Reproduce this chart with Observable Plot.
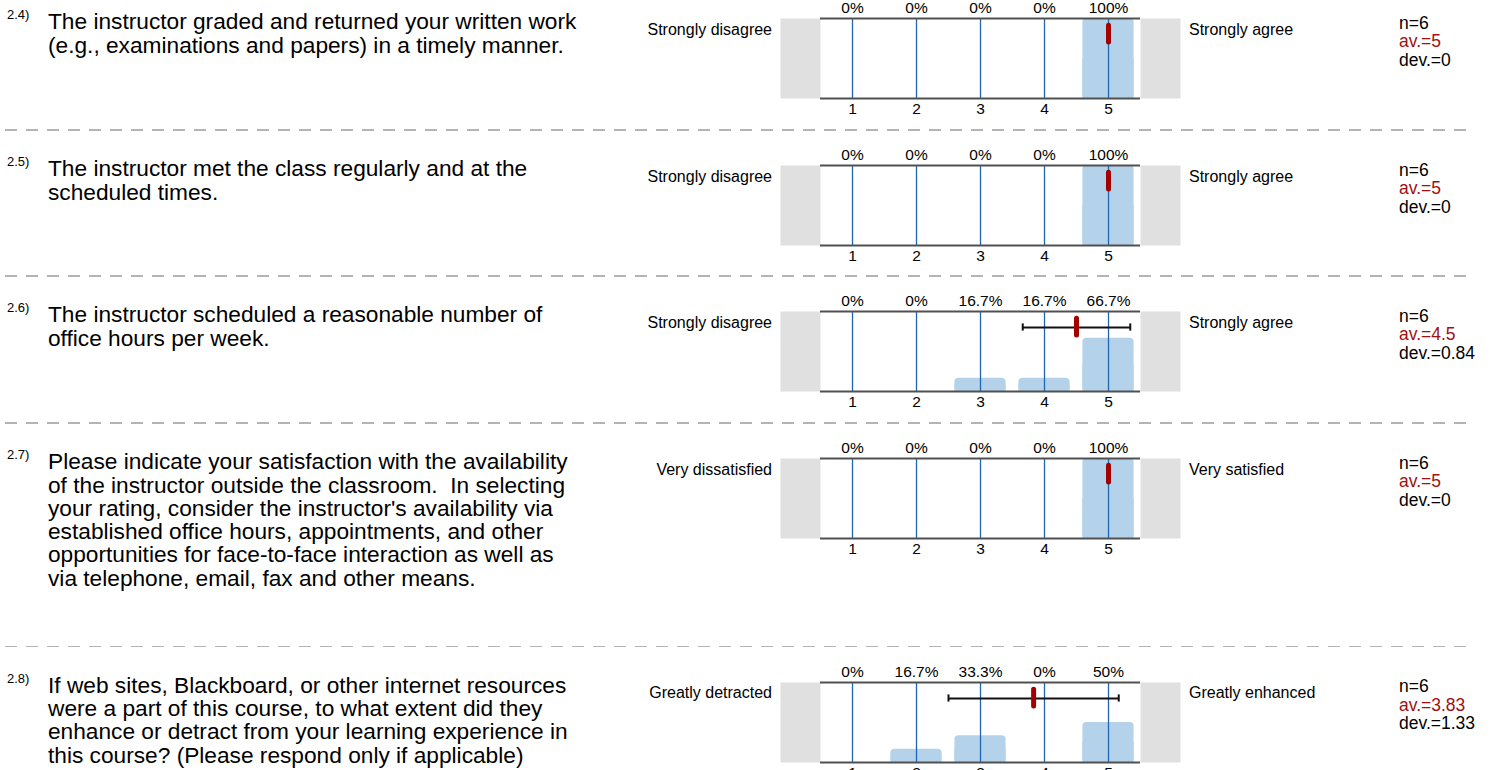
<!DOCTYPE html>
<html>
<head>
<meta charset="utf-8">
<script src="https://cdn.jsdelivr.net/npm/d3@7"></script>
<script src="https://cdn.jsdelivr.net/npm/@observablehq/plot@0.6"></script>
<style>
  html, body { margin: 0; padding: 0; background: #fff; }
  body { width: 1497px; height: 770px; overflow: hidden; position: relative; font-family: "Liberation Sans", Arial, sans-serif; color: #000; }
  .sec { position: absolute; left: 0; width: 1497px; }
  .dash { position: absolute; left: 5px; width: 1466px; height: 1.5px; top: 0;
          background: repeating-linear-gradient(to right, #b4b4b4 0 12px, transparent 12px 21px); }
  .qnum { position: absolute; left: 7px; font-size: 13px; line-height: 14px; white-space: nowrap; }
  .qtext { position: absolute; left: 48px; font-size: 22.7px; line-height: 23.3px; white-space: nowrap; }
  .lab { position: absolute; font-size: 16px; line-height: 18px; white-space: nowrap; }
  .lab.left { right: calc(1497px - 772px); text-align: right; }
  .lab.right { left: 1189px; }
  .stats { position: absolute; left: 1399px; font-size: 17.5px; line-height: 18.5px; white-space: nowrap; }
  .stats .av { color: #a00f0f; }
  .chart { position: absolute; left: 780px; }
</style>
</head>
<body>
<script>
// ---- data ----
const questionNumbers = ["2.4)", "2.5)", "2.6)", "2.7)", "2.8)"];
const questionTexts = [
  "The instructor graded and returned your written work<br>(e.g., examinations and papers) in a timely manner.",
  "The instructor met the class regularly and at the<br>scheduled times.",
  "The instructor scheduled a reasonable number of<br>office hours per week.",
  "Please indicate your satisfaction with the availability<br>of the instructor outside the classroom.&nbsp; In selecting<br>your rating, consider the instructor's availability via<br>established office hours, appointments, and other<br>opportunities for face-to-face interaction as well as<br>via telephone, email, fax and other means.",
  "If web sites, Blackboard, or other internet resources<br>were a part of this course, to what extent did they<br>enhance or detract from your learning experience in<br>this course? (Please respond only if applicable)"
];
const leftLabels = ["Strongly disagree", "Strongly disagree", "Strongly disagree", "Very dissatisfied", "Greatly detracted"];
const rightLabels = ["Strongly agree", "Strongly agree", "Strongly agree", "Very satisfied", "Greatly enhanced"];
const scalePoints = [1, 2, 3, 4, 5];
const percents = [
  [0, 0, 0, 0, 100],
  [0, 0, 0, 0, 100],
  [0, 0, 16.7, 16.7, 66.7],
  [0, 0, 0, 0, 100],
  [0, 16.7, 33.3, 0, 50]
];
const nValues = [6, 6, 6, 6, 6];
const averages = [5, 5, 4.5, 5, 3.83];
const deviations = [0, 0, 0.84, 0, 1.33];

// ---- layout (section tops in px) ----
const sectionTops = [-18, 129, 275, 422, 645.5];
const frameOffset = 36;

function chart(i) {
  const rows = scalePoints.map((v, j) => ({v, p: percents[i][j]}));
  const nonzero = rows.filter(d => d.p > 0);
  const m = averages[i], s = deviations[i];
  const marks = [
    Plot.frame({fill: "#e0e0e0", insetLeft: -40, insetRight: -40}),
    Plot.frame({fill: "#ffffff"}),
    Plot.rect(nonzero, {x1: d => d.v - 0.4, x2: d => d.v + 0.4, y1: 0, y2: "p", fill: "#b4d3ea", rx: 4}),
    Plot.rect(nonzero, {x1: d => d.v - 0.4, x2: d => d.v + 0.4, y1: 0, y2: d => d.p / 2, fill: "#b4d3ea"}),
    Plot.ruleX(scalePoints, {y1: 0, y2: 100, stroke: "#1f66b0", strokeWidth: 1.3}),
    Plot.ruleY([0, 100], {stroke: "#505050", strokeWidth: 2}),
    Plot.text(rows, {x: "v", y: 100, text: d => `${d.p}%`, dy: -10, fontSize: 15.5, fill: "#000"}),
    Plot.text(scalePoints, {x: d => d, y: 0, text: d => String(d), dy: 11, fontSize: 15.5, fill: "#000"})
  ];
  if (s > 0) {
    marks.push(
      Plot.ruleY([80], {x1: m - s, x2: m + s, stroke: "#111", strokeWidth: 2}),
      Plot.ruleX([m - s, m + s], {y1: 75.5, y2: 84.5, stroke: "#111", strokeWidth: 2})
    );
  }
  marks.push(Plot.ruleX([m], {y1: 70, y2: 91, stroke: "#a30000", strokeWidth: 5, strokeLinecap: "round"}));
  return Plot.plot({
    width: 400, height: 120,
    marginLeft: 40, marginRight: 40, marginTop: 18, marginBottom: 22,
    x: {domain: [0.5, 5.5], axis: null},
    y: {domain: [0, 100], axis: null},
    style: {fontFamily: "'Liberation Sans', Arial, sans-serif", background: "transparent", overflow: "visible"},
    marks
  });
}

questionNumbers.forEach((q, i) => {
  const top = sectionTops[i];
  const sec = document.createElement("div");
  sec.className = "sec";
  sec.style.top = top + "px";
  const f = frameOffset;
  sec.innerHTML = `
    ${i > 0 ? '<div class="dash"></div>' : ''}
    <div class="qnum" style="top:${f - 10}px">${q}</div>
    <div class="qtext" style="top:${f - 7.7}px">${questionTexts[i]}</div>
    <div class="lab left" style="top:${f + 2.5}px">${leftLabels[i]}</div>
    <div class="lab right" style="top:${f + 2.5}px">${rightLabels[i]}</div>
    <div class="stats" style="top:${f - 4.5}px">n=${nValues[i]}<br><span class="av">av.=${averages[i]}</span><br>dev.=${deviations[i]}</div>
  `;
  const c = chart(i);
  const wrap = document.createElement("div");
  wrap.className = "chart";
  wrap.style.top = (f - 18) + "px";
  wrap.appendChild(c);
  sec.appendChild(wrap);
  document.body.appendChild(sec);
});
</script>
</body>
</html>
